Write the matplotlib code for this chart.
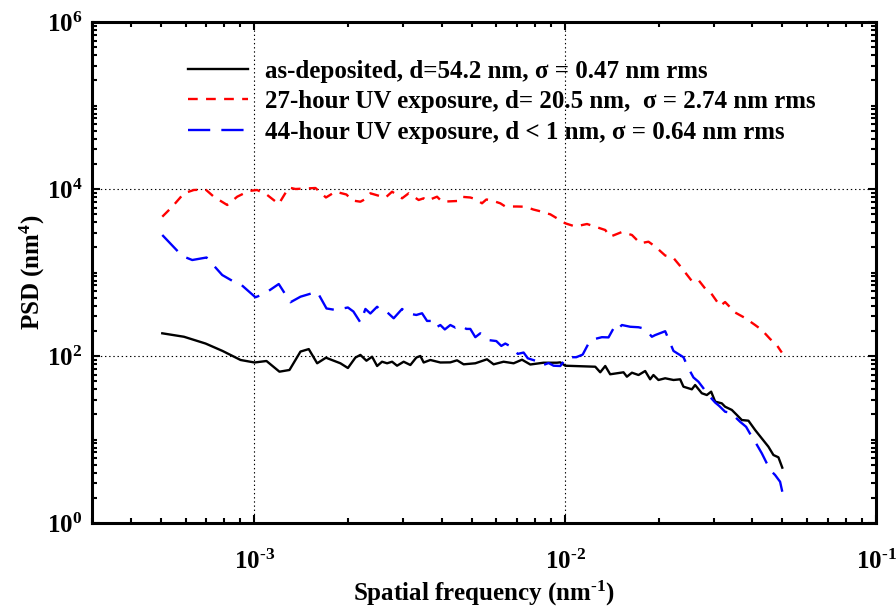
import matplotlib
matplotlib.use("Agg")
import matplotlib.pyplot as plt
from matplotlib.ticker import LogLocator, FixedLocator, NullFormatter, FixedFormatter
import numpy as np

plt.rcParams['font.family'] = ['Liberation Serif', 'DejaVu Serif']
plt.rcParams['font.weight'] = 'bold'
plt.rcParams['mathtext.fontset'] = 'custom'
plt.rcParams['mathtext.rm'] = 'Liberation Serif:bold'
plt.rcParams['mathtext.bf'] = 'Liberation Serif:bold'
plt.rcParams['mathtext.it'] = 'Liberation Serif:bold:italic'
plt.rcParams['lines.scale_dashes'] = False

# ---------------- data ----------------
f_asdep = [5.05e-4, 5.93e-4, 6.96e-4, 7.89e-4, 9.02e-4, 1.0e-3, 1.093e-3, 1.203e-3, 1.296e-3,
           1.406e-3, 1.495e-3, 1.591e-3, 1.698e-3, 1.890e-3, 1.998e-3, 2.113e-3, 2.192e-3,
           2.292e-3, 2.390e-3, 2.481e-3, 2.573e-3, 2.671e-3, 2.772e-3, 2.876e-3, 3.020e-3,
           3.174e-3, 3.318e-3, 3.418e-3, 3.503e-3, 3.681e-3, 3.963e-3, 4.268e-3, 4.486e-3,
           4.710e-3, 5.136e-3, 5.600e-3, 5.882e-3, 6.333e-3, 6.822e-3, 7.258e-3, 7.718e-3,
           8.515e-3, 9.404e-3, 9.636e-3, 1.0e-2, 1.249e-2, 1.296e-2, 1.345e-2, 1.395e-2,
           1.540e-2, 1.579e-2, 1.639e-2, 1.721e-2, 1.808e-2, 1.876e-2, 1.922e-2, 1.995e-2,
           2.097e-2, 2.230e-2, 2.343e-2, 2.401e-2, 2.555e-2, 2.618e-2, 2.751e-2, 2.855e-2,
           2.948e-2, 3.037e-2, 3.190e-2, 3.269e-2, 3.436e-2, 3.565e-2, 3.700e-2, 3.886e-2,
           4.083e-2, 4.291e-2, 4.506e-2, 4.676e-2, 4.853e-2, 4.994e-2]
psd_asdep = [187, 170, 141, 115, 89.6, 83.6, 87.1, 64.9, 68.0,
             113, 121, 81.8, 95.4, 81.8, 71.8, 95.9, 103,
             87.8, 98.1, 75.9, 85.4, 81.8, 85.4, 76.5, 85.4,
             78.0, 95.9, 100, 83.6, 89.6, 83.6, 83.9, 88.8,
             79.5, 81.8, 91.3, 79.5, 85.4, 81.8, 90.3, 79.1,
             83.1, 83.1, 83.9, 76.5, 74.4, 63.8, 75.9, 60.4,
             63.8, 56.5, 63.1, 59.2, 66.1, 52.6, 59.2, 51.6,
             54.1, 51.6, 52.6, 42.9, 39.9, 44.9, 35.8, 34.1,
             37.4, 28.4, 27.1, 24.7, 22.6, 19.7, 17.1, 16.8,
             13.0, 10.3, 8.20, 6.52, 6.12, 4.60]

f_uv27 = [5.05e-4, 5.438e-4, 5.93e-4, 6.38e-4, 6.96e-4, 7.396e-4, 8.17e-4, 8.799e-4, 9.588e-4,
          1.020e-3, 1.099e-3, 1.197e-3, 1.289e-3, 1.355e-3, 1.571e-3, 1.698e-3, 1.822e-3,
          1.976e-3, 2.066e-3, 2.192e-3, 2.275e-3, 2.360e-3, 2.638e-3, 2.772e-3, 2.985e-3,
          3.135e-3, 3.375e-3, 3.503e-3, 3.592e-3, 3.868e-3, 4.013e-3, 4.486e-3, 4.597e-3,
          4.949e-3, 5.136e-3, 5.397e-3, 5.572e-3, 5.739e-3, 6.180e-3, 6.413e-3, 6.993e-3,
          7.437e-3, 7.89e-3, 8.416e-3, 8.752e-3, 8.950e-3, 9.404e-3, 1.0e-2, 1.077e-2,
          1.175e-2, 1.249e-2, 1.345e-2, 1.395e-2, 1.522e-2, 1.639e-2, 1.743e-2, 1.853e-2,
          1.947e-2, 2.097e-2, 2.230e-2, 2.343e-2, 2.555e-2, 2.683e-2, 2.819e-2, 2.948e-2,
          3.150e-2, 3.269e-2, 3.520e-2, 3.792e-2, 4.083e-2, 4.291e-2, 4.563e-2, 4.795e-2,
          4.976e-2]
psd_uv27 = [4660, 6137, 8882, 9727, 9863, 8088, 6433, 8088, 9463,
            9727, 8475, 6613, 10420, 10000, 10280, 7912, 9284,
            8594, 7282, 7044, 7590, 8882, 7868, 9284, 7738,
            8882, 7384, 7738, 7242, 8088, 7044, 7182, 8088,
            7912, 7590, 6741, 7487, 7384, 6741, 6171, 6171,
            6137, 5683, 5347, 5088, 4977, 4458, 3884, 3555,
            3809, 3536, 3228, 2684, 3055, 2813, 2237, 2338,
            2048, 1598, 1492, 1196, 791, 813, 643, 563,
            397, 443, 332, 285, 235, 205, 160, 135,
            110]

f_uv44 = [5.05e-4, 5.855e-4, 6.306e-4, 7.010e-4, 7.873e-4, 8.579e-4, 9.082e-4, 1.007e-3, 1.077e-3,
          1.197e-3, 1.305e-3, 1.406e-3, 1.591e-3, 1.705e-3, 1.822e-3, 1.998e-3, 2.081e-3,
          2.192e-3, 2.275e-3, 2.360e-3, 2.481e-3, 2.573e-3, 2.671e-3, 2.805e-3, 2.985e-3,
          3.097e-3, 3.318e-3, 3.461e-3, 3.592e-3, 3.735e-3, 3.834e-3, 3.963e-3, 4.097e-3,
          4.268e-3, 4.429e-3, 4.597e-3, 4.805e-3, 4.949e-3, 5.136e-3, 5.329e-3, 5.667e-3,
          6.0e-3, 6.226e-3, 6.413e-3, 6.781e-3, 7.037e-3, 7.345e-3, 7.577e-3, 8.205e-3,
          8.416e-3, 8.838e-3, 9.171e-3, 9.636e-3, 1.013e-2, 1.085e-2, 1.138e-2, 1.204e-2,
          1.312e-2, 1.378e-2, 1.448e-2, 1.484e-2, 1.522e-2, 1.618e-2, 1.721e-2, 1.808e-2,
          1.900e-2, 1.947e-2, 2.097e-2, 2.230e-2, 2.401e-2, 2.492e-2, 2.586e-2, 2.683e-2,
          2.785e-2, 2.855e-2, 3.037e-2, 3.127e-2, 3.269e-2, 3.436e-2, 3.565e-2, 3.654e-2,
          3.819e-2, 3.983e-2, 4.083e-2, 4.291e-2, 4.452e-2, 4.620e-2, 4.734e-2, 4.913e-2,
          4.994e-2]
psd_uv44 = [2812, 1576, 1411, 1512, 933, 776, 709, 505, 557,
            728, 440, 513, 589, 371, 356, 381, 341,
            252, 366, 323, 389, 339, 335, 283, 366,
            325, 310, 325, 263, 263, 219, 235, 208,
            235, 219, 235, 211, 211, 168, 187, 155,
            151, 132, 141, 126, 106, 110, 93.9, 85.4,
            76.9, 82.4, 76.5, 75.9, 96.7, 96.7, 104, 155,
            168, 167, 233, 215, 235, 224, 221, 212,
            170, 178, 198, 115, 96.7, 71.2, 55.3, 49.2,
            41.0, 35.8, 27.7, 25.3, 21.5, 20.8, 17.8, 16.3,
            14.2, 10.8, 9.41, 6.83, 5.19, 4.12, 3.76, 3.12,
            2.37]

labels = ["as-deposited, d=54.2 nm, \u03c3 = 0.47 nm rms",
          "27-hour UV exposure, d= 20.5 nm,  \u03c3 = 2.74 nm rms",
          "44-hour UV exposure, d < 1 nm, \u03c3 = 0.64 nm rms"]

xticks = [1e-3, 1e-2, 1e-1]
xticklabels = [r'$\mathbf{10^{\text{-}3}}$', r'$\mathbf{10^{\text{-}2}}$', r'$\mathbf{10^{\text{-}1}}$']
yticks = [1e0, 1e2, 1e4, 1e6]
yticklabels = [r'$\mathbf{10^{0}}$', r'$\mathbf{10^{2}}$', r'$\mathbf{10^{4}}$', r'$\mathbf{10^{6}}$']

# ---------------- figure ----------------
fig = plt.figure(figsize=(8.96, 6.07), dpi=100)
ax = fig.add_axes([92/896, 1 - 523/607, 784/896, 501/607])

ax.plot(f_asdep, psd_asdep, color='black', lw=1.7, ls='-', label=labels[0])
ax.plot(f_uv27, psd_uv27, color='red', lw=1.7, ls=(0, (7, 6)), label=labels[1])
ax.plot(f_uv44, psd_uv44, color='blue', lw=1.7, ls=(0, (16, 8)), label=labels[2])

ax.set_xscale('log')
ax.set_yscale('log')
ax.set_xlim(3e-4, 1e-1)
ax.set_ylim(1, 1e6)

ax.xaxis.set_major_locator(FixedLocator(xticks))
ax.xaxis.set_major_formatter(FixedFormatter(xticklabels))
ax.xaxis.set_minor_locator(LogLocator(base=10, subs=np.arange(2, 10), numticks=20))
ax.xaxis.set_minor_formatter(NullFormatter())
ax.yaxis.set_major_locator(FixedLocator(yticks))
ax.yaxis.set_major_formatter(FixedFormatter(yticklabels))
ax.yaxis.set_minor_locator(LogLocator(base=10, subs=np.arange(1, 10), numticks=20))
ax.yaxis.set_minor_formatter(NullFormatter())

ax.tick_params(which='both', direction='in', top=True, right=True, width=1.5, colors='black')
ax.tick_params(which='major', length=6)
ax.tick_params(which='minor', length=3.5)
ax.tick_params(axis='x', which='major', labelsize=18, pad=19)
ax.tick_params(axis='y', which='major', labelsize=18, pad=7)

for s in ax.spines.values():
    s.set_linewidth(2.2)

ax.grid(True, which='major', color='black', ls=(0, (1, 2)), lw=0.8)

ax.set_xlabel(r'Spatial frequency (nm$^{\mathbf{\text{-}1}}$)', fontsize=18, fontweight='bold', labelpad=4)
ax.set_ylabel(r'PSD (nm$^{\mathbf{4}}$)', fontsize=18, fontweight='bold', labelpad=0)

leg = ax.legend(loc='upper left', bbox_to_anchor=(0.1224, 0.925), frameon=False,
                prop={'family': 'Liberation Serif', 'weight': 'bold', 'size': 18},
                handlelength=2.4, handletextpad=0.7, labelspacing=0.3,
                borderpad=0.0, borderaxespad=0.0)

fig.savefig('out.png', dpi=100)
